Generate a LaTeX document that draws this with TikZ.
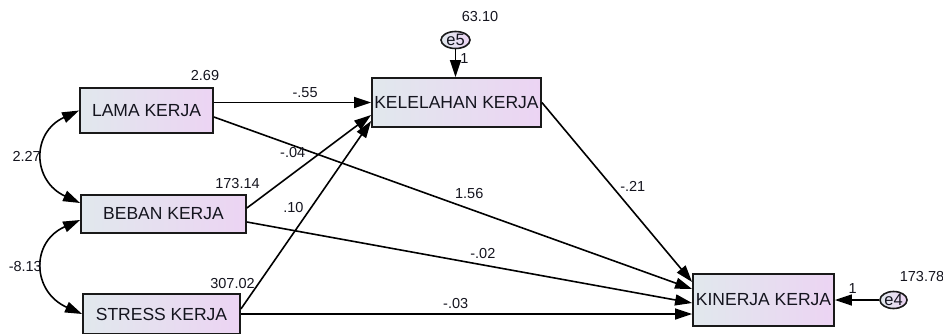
\documentclass[tikz,border=0pt]{standalone}
\usepackage{fontspec}
\setmainfont{Liberation Sans}
\usetikzlibrary{arrows.meta,shapes.geometric}
\definecolor{boxl}{RGB}{225,232,237}
\definecolor{boxr}{RGB}{236,212,243}
\definecolor{txt}{RGB}{20,20,30}

\begin{document}
\begin{tikzpicture}[x=1pt, y=-1pt,
    var/.style={draw=black!90, line width=1.8pt, left color=boxl, right color=boxr,
      inner sep=0pt, text=txt, font=\fontsize{17.5}{20}\selectfont},
    errc/.style={draw=black!90, line width=1.6pt, ellipse, left color=boxl, right color=boxr,
      inner sep=0pt, minimum width=29pt, minimum height=17pt, text=txt, font=\fontsize{16.5}{18}\selectfont},
    lbl/.style={inner sep=1pt, text=txt, font=\fontsize{14.5}{16}\selectfont},
    reg/.style={line width=1.6pt, -{Triangle[length=17pt,width=11pt]}},
    cov/.style={line width=1.6pt, {Triangle[length=17pt,width=11pt]}-{Triangle[length=17pt,width=11pt]}}]
    \useasboundingbox (0,0) rectangle (943,333);
    \node[var, minimum width=133pt, minimum height=45pt] (lk) at (146.5, 110.5) {LAMA KERJA};
    \node[var, minimum width=165pt, minimum height=38pt] (bk) at (163.5, 214) {BEBAN KERJA};
    \node[var, minimum width=157pt, minimum height=40pt] (sk) at (161.5, 314) {STRESS KERJA};
    \node[var, minimum width=169pt, minimum height=49pt] (kl) at (456.5, 102.5) {KELELAHAN KERJA};
    \node[var, minimum width=141pt, minimum height=52pt] (kn) at (763.5, 300) {KINERJA KERJA};
    \node[errc] (e5) at (455.5, 40) {e5};
    \node[errc, minimum width=27pt] (e4) at (893.5, 300) {e4};
    % variances
    \node[lbl] (vlk) at (205, 76) {2.69};
    \node[lbl] (vbk) at (237.5, 184) {173.14};
    \node[lbl] (vsk) at (232.5, 284) {307.02};
    \node[lbl] (ve5) at (480, 17) {63.10};
    \node[lbl] (ve4) at (922, 277) {173.78};
    % regression weights
    \draw [reg] (lk.east |- kl.west) to node[lbl, pos=.58, above=3pt] (p1) {-.55} (kl.west);
    \draw [reg] ([yshift=-6.5pt]lk.east) to node[lbl, pos=.534, above=8pt] (p2) {1.56} ([yshift=11pt]kn.west);
    \draw [reg] ([yshift=6pt]bk.east) to node[lbl, pos=.5, above left=2pt] (p3) {-.04} ([yshift=-12.5pt]kl.west);
    \draw [reg] ([yshift=5pt]sk.east) to node[lbl, pos=.54, left=6pt] (p4) {.10} ([yshift=-18.5pt]kl.west);
    \draw [reg] ([yshift=-8pt]bk.east) to node[lbl, pos=.53, above=4pt] (p5) {-.02} ([yshift=-3pt]kn.west);
    \draw [reg] (sk.east) to node[lbl, pos=.476, above=4pt] (p6) {-.03} (kn.west |- sk.east);
    \draw [reg] (kl.east) to node[lbl, pos=.47, right=6pt] (p7) {-.21} ([yshift=18pt]kn.west);
    \draw [reg] (e5.south) to node[lbl, pos=.33, right=3pt] (p8) {1} (e5.south |- kl.north);
    \draw [reg] (e4.west) to node[lbl, pos=.6, above=5pt] (p9) {1} (kn.east);
    % covariances
    \draw [cov] (lk.west) .. controls +(-48,22) and +(-48,-22) .. ([yshift=11pt]bk.west)
      node[lbl, pos=.5, left=1pt] (c1) {2.27};
    \draw [cov] ([yshift=-6pt]bk.west) .. controls +(-50,22) and +(-50,-22) .. (sk.west)
      node[lbl, pos=.5, left=0pt] (c2) {-8.13};
  \end{tikzpicture}
\end{document}
